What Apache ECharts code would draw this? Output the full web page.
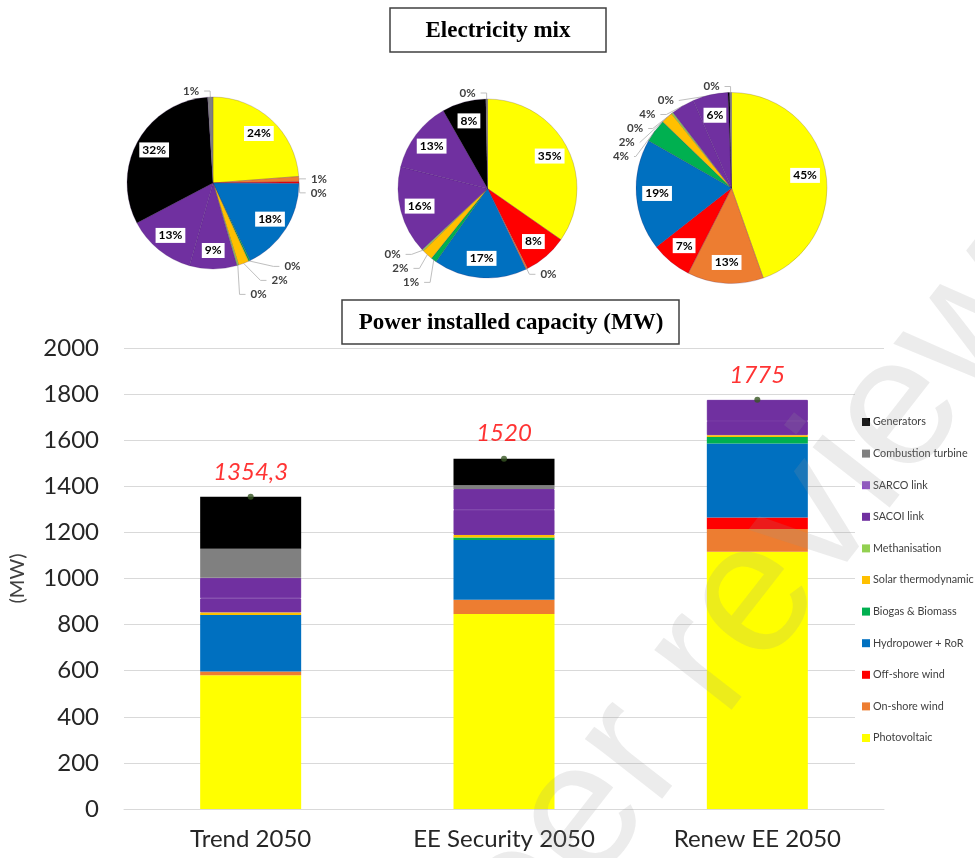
<!DOCTYPE html>
<html>
<head>
<meta charset="utf-8">
<script src="https://cdn.jsdelivr.net/npm/echarts@6/dist/echarts.min.js"></script>
<style>
html,body{margin:0;padding:0;background:#fff;}
#chart{width:975px;height:858px;}
</style>
</head>
<body>
<div id="chart"></div>
<script>
// ---------- DATA ----------
const categories = ['Trend 2050', 'EE Security 2050', 'Renew EE 2050'];
// stacked order (bottom -> top)
const techNames = ['Photovoltaic', 'On-shore wind', 'Off-shore wind', 'Hydropower + RoR', 'Biogas & Biomass',
  'Solar thermodynamic', 'Methanisation', 'SACOI link', 'SARCO link', 'Combustion turbine', 'Generators'];
const photovoltaic = [580, 846, 1116];
const onshoreWind = [16, 62, 99];
const offshoreWind = [0, 0, 50];
const hydropower = [246, 259, 321];
const biogas = [0, 11, 28];
const solarThermo = [11, 11, 8];
const methanisation = [0, 0, 0];
const sacoiLink = [61, 109, 61];
const sarcoLink = [89, 90, 92];
const combustionTurbine = [126, 17, 0];
const generators = [225.3, 115, 0];
const totals = [1354.3, 1520, 1775];
const yTicks = { min: 0, max: 2000, step: 200 };

// pies (clockwise from 12 o'clock), values in %
const pie1Names = ['Photovoltaic', 'On-shore wind', 'Off-shore wind', 'Hydropower + RoR', 'Biogas & Biomass',
  'Solar thermodynamic', 'Methanisation', 'SACOI link', 'SARCO link', 'Generators', 'Combustion turbine'];
const pie1Values = [24, 1, 0.3, 18, 0.3, 2, 0.3, 9, 13, 32, 1];
const pie2Names = ['Photovoltaic', 'Off-shore wind', 'On-shore wind', 'Hydropower + RoR', 'Biogas & Biomass',
  'Solar thermodynamic', 'Methanisation', 'SACOI link', 'SARCO link', 'Generators', 'Combustion turbine'];
const pie2Values = [35, 8, 0.3, 17, 1, 2, 0.3, 16, 13, 8, 0.3];
const pie3Names = ['Photovoltaic', 'On-shore wind', 'Off-shore wind', 'Hydropower + RoR', 'Biogas & Biomass',
  'Solar thermodynamic', 'Methanisation', 'SACOI link', 'SARCO link', 'Generators', 'Combustion turbine'];
const pie3Values = [45, 13, 7, 19, 4, 2, 0.3, 4, 6, 0.3, 0.3];

// ---------- STYLES ----------
const techColors = {
  'Photovoltaic': '#FFFF00', 'On-shore wind': '#ED7D31', 'Off-shore wind': '#FF0000',
  'Hydropower + RoR': '#0070C0', 'Biogas & Biomass': '#00B050', 'Solar thermodynamic': '#FFC000',
  'Methanisation': '#92D050', 'SACOI link': '#7030A0', 'SARCO link': '#7030A0',
  'Combustion turbine': '#808080', 'Generators': '#000000'
};
const legendIconColors = { 'SARCO link': '#8E4EC6' };
const seamless = { 'SACOI link': true, 'SARCO link': true };
const barSeriesData = [photovoltaic, onshoreWind, offshoreWind, hydropower, biogas, solarThermo,
  methanisation, sacoiLink, sarcoLink, combustionTurbine, generators];
const FONT = 'Lato, "Noto Sans", sans-serif';

const chart = echarts.init(document.getElementById('chart'), null, { renderer: 'canvas' });

const barSeries = techNames.map((n, i) => ({
  name: n, type: 'bar', stack: 'cap', barWidth: 101,
  itemStyle: seamless[n]
    ? { color: techColors[n], borderColor: techColors[n], borderWidth: 1 }
    : { color: techColors[n] },
  data: barSeriesData[i]
}));

function pieSeries(names, values, center, r) {
  const base = {
    type: 'pie', center: center, radius: r, startAngle: 90, clockwise: true,
    label: { show: false }, labelLine: { show: false }, silent: true,
    itemStyle: { borderColor: 'rgba(60,20,90,0.35)', borderWidth: 0.6 },
    data: names.map((n, i) => ({ name: n, value: values[i], itemStyle: { color: techColors[n] } }))
  };
  const lab = {
    type: 'pie', center: center, radius: [r * 0.5, r], startAngle: 90, clockwise: true,
    silent: true, avoidLabelOverlap: true,
    labelLayout: { hideOverlap: false },
    itemStyle: { color: 'rgba(0,0,0,0)' },
    data: names.map((n, i) => {
      const v = values[i];
      const inside = v >= 5;
      return {
        name: n, value: v,
        itemStyle: { color: 'rgba(0,0,0,0)' },
        label: inside ? {
          show: true, position: 'inside', formatter: () => Math.round(v) + '%',
          backgroundColor: '#fff', padding: [2, 3, 1, 3], color: '#000',
          fontWeight: 'bold', fontSize: 12, fontFamily: FONT
        } : {
          show: true, position: 'outside', formatter: () => Math.round(v) + '%',
          color: '#404040', fontWeight: 'bold', fontSize: 11.5, fontFamily: FONT
        },
        labelLine: inside ? { show: false } : {
          show: true, length: 6, length2: 6, lineStyle: { color: '#bfbfbf', width: 1 }
        }
      };
    })
  };
  return [base, lab];
}

const option = {
  backgroundColor: '#fff',
  animation: false,
  textStyle: { fontFamily: FONT },
  grid: { left: 119, right: 91, top: 348, bottom: 49 },
  legend: {
    data: techNames.slice().reverse().map(n => legendIconColors[n]
      ? { name: n, itemStyle: { color: legendIconColors[n], borderWidth: 0 } } : { name: n, itemStyle: { borderWidth: 0 } }),
    orient: 'vertical', left: 855, top: 370,
    padding: [45, 0, 40, 7],
    backgroundColor: '#fff',
    icon: 'rect', itemWidth: 8, itemHeight: 8, itemGap: 17.6,
    textStyle: { fontSize: 10.8, color: '#404040', fontFamily: FONT, lineHeight: 14, padding: [0, 0, 0, -2] },
    selectedMode: false
  },
  xAxis: {
    type: 'category', data: categories,
    axisLine: { lineStyle: { color: '#d9d9d9', width: 1 } },
    axisTick: { show: false },
    axisLabel: { fontSize: 24, color: '#262626', margin: 18, fontFamily: FONT }
  },
  yAxis: {
    type: 'value', min: yTicks.min, max: yTicks.max, interval: yTicks.step,
    name: '(MW)', nameLocation: 'middle', nameGap: 96, nameRotate: 90,
    nameTextStyle: { fontSize: 20, color: '#404040', fontFamily: FONT },
    axisLine: { show: false }, axisTick: { show: false },
    axisLabel: { fontSize: 24, color: '#262626', margin: 25, fontFamily: FONT, formatter: v => String(v) },
    splitLine: { lineStyle: { color: '#d9d9d9', width: 1 } }
  },
  graphic: [
    { type: 'rect', shape: { x: 390, y: 8, width: 216, height: 44 },
      style: { fill: '#fff', stroke: '#404040', lineWidth: 1.5 }, z: 10 },
    { type: 'text', x: 498, y: 31, z: 11,
      style: { text: 'Electricity mix', fontSize: 23, fontWeight: 'bold', fontFamily: '"Liberation Serif", serif',
        fill: '#000', align: 'center', verticalAlign: 'middle' } },
    { type: 'rect', shape: { x: 342, y: 300, width: 337, height: 44 },
      style: { fill: '#fff', stroke: '#404040', lineWidth: 1.5 }, z: 10 },
    { type: 'text', x: 511, y: 323, z: 11,
      style: { text: 'Power installed capacity (MW)', fontSize: 23, fontWeight: 'bold', fontFamily: '"Liberation Serif", serif',
        fill: '#000', align: 'center', verticalAlign: 'middle' } },
    { type: 'text', x: 712, y: 652, z: 100, silent: true, rotation: 52 * Math.PI / 180,
      style: { text: 'Peer review', fontSize: 185, fontFamily: '"Liberation Sans", Arial, sans-serif',
        fill: 'rgba(150,150,150,0.18)', align: 'center', verticalAlign: 'middle' } }
  ],
  series: [
    ...barSeries,
    {
      name: 'Total', type: 'scatter', data: totals, symbolSize: 6, z: 5,
      itemStyle: { color: '#375623' },
      label: {
        show: true, position: 'top', distance: 10,
        formatter: p => String(p.value).replace('.', ','),
        fontSize: 24, fontStyle: 'italic', color: '#FF0000', fontFamily: FONT
      }
    },
    ...pieSeries(pie1Names, pie1Values, [213, 183], 86),
    ...pieSeries(pie2Names, pie2Values, [487.5, 188.5], 89.5),
    ...pieSeries(pie3Names, pie3Values, [731.5, 188], 95.5)
  ]
};
chart.setOption(option);
</script>
</body>
</html>
